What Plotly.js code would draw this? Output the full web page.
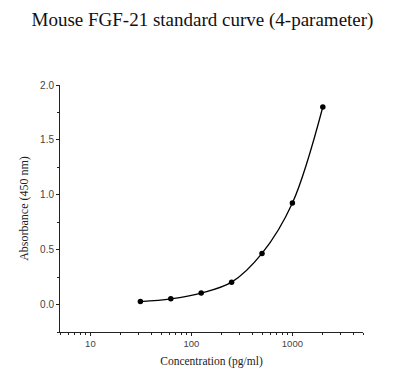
<!DOCTYPE html>
<html><head><meta charset="utf-8">
<script src="https://cdn.plot.ly/plotly-3.0.1.min.js"></script>
<style>html,body{margin:0;padding:0;background:#fff}#c{width:405px;height:380px}</style>
</head><body><div id="c"></div>
<script>
const concentration = [31.25, 62.5, 125, 250, 500, 1000, 2000];
const absorbance = [0.027, 0.052, 0.105, 0.204, 0.466, 0.925, 1.80];
const xTickVals = [10, 100, 1000];
const xTickText = ['10', '100', '1000'];
const xMinorVals = [5,6,7,8,9,20,30,40,50,60,70,80,90,200,300,400,500,600,700,800,900,2000,3000,4000,5000];
const yTickVals = [0, 0.5, 1.0, 1.5, 2.0];
const yTickText = ['0.0', '0.5', '1.0', '1.5', '2.0'];
const yMinorVals = [-0.25, 0.25, 0.75, 1.25, 1.75];

const trace = {
  x: concentration, y: absorbance, type: 'scatter', mode: 'lines+markers',
  line: {color: '#000', width: 1.3, shape: 'spline', smoothing: 1},
  marker: {color: '#000', size: 5.5},
  hoverinfo: 'skip', showlegend: false
};
const layout = {
  width: 405, height: 380,
  margin: {l: 60, r: 42, t: 85, b: 48},
  paper_bgcolor: '#fff', plot_bgcolor: '#fff',
  title: {text: 'Mouse FGF-21 standard curve (4-parameter)',
    font: {family: 'Liberation Serif, Times New Roman, serif', size: 19, color: '#111'},
    x: 0.5, xanchor: 'center', y: 0.95, yanchor: 'middle', yref: 'container'},
  xaxis: {type: 'log', range: [Math.log10(5), Math.log10(5000)],
    showgrid: false, zeroline: false, showline: true, linecolor: '#222', linewidth: 1,
    ticks: 'outside', ticklen: 3, tickcolor: '#222', tickwidth: 1,
    tickmode: 'array', tickvals: xTickVals, ticktext: xTickText,
    tickfont: {family: 'Liberation Sans, Arial, sans-serif', size: 9.5, color: '#444'},
    minor: {tickmode: 'array', tickvals: xMinorVals, ticks: 'outside', ticklen: 2, tickcolor: '#222', showgrid: false},
    title: {text: 'Concentration (pg/ml)', standoff: 8,
      font: {family: 'Liberation Serif, Times New Roman, serif', size: 11.5, color: '#222'}}},
  yaxis: {range: [-0.25, 2.0], showgrid: false, zeroline: false, showline: true, linecolor: '#222', linewidth: 1,
    ticks: 'outside', ticklen: 3, tickcolor: '#222', tickwidth: 1,
    tickmode: 'array', tickvals: yTickVals, ticktext: yTickText,
    tickfont: {family: 'Liberation Sans, Arial, sans-serif', size: 10, color: '#444'},
    minor: {tickmode: 'array', tickvals: yMinorVals, ticks: 'outside', ticklen: 2, tickcolor: '#222', showgrid: false},
    title: {text: 'Absorbance (450 nm)', standoff: 8,
      font: {family: 'Liberation Serif, Times New Roman, serif', size: 12, color: '#222'}}}
};
Plotly.newPlot('c', [trace], layout, {staticPlot: true, displayModeBar: false});
</script></body></html>
